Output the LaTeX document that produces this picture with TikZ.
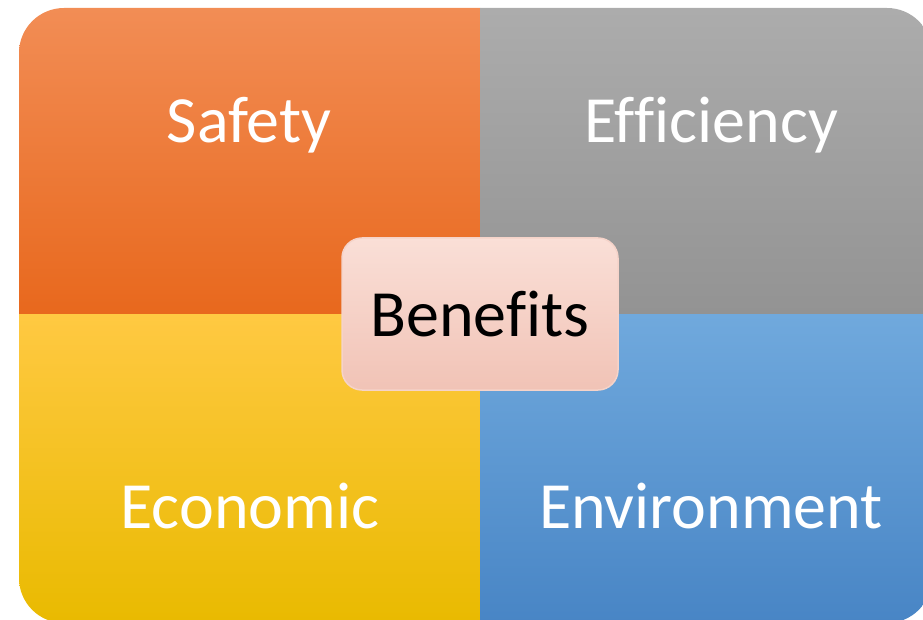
\documentclass[tikz,border=0pt]{standalone}
\usepackage{fontspec}
\setmainfont[Ligatures=NoCommon]{Carlito}
\definecolor{safT}{HTML}{F28D55}
\definecolor{safB}{HTML}{E8681D}
\definecolor{effT}{HTML}{ACACAC}
\definecolor{effB}{HTML}{939393}
\definecolor{ecoT}{HTML}{FFC942}
\definecolor{ecoB}{HTML}{E9BA00}
\definecolor{envT}{HTML}{70A9DD}
\definecolor{envB}{HTML}{4885C5}
\definecolor{benT}{HTML}{FADFD7}
\definecolor{benB}{HTML}{F1C3B6}
\definecolor{benD}{HTML}{F5D3C9}
\newcommand{\nolig}{\kern0pt\relax}
\tikzset{
  quadlabel/.style={text=white,font=\fontsize{66}{72}\selectfont,inner sep=0pt},
  centerbox/.style={rounded corners=20pt,draw=benD,line width=1.5pt,top color=benT,bottom color=benB,
     minimum width=276pt,minimum height=152pt,font=\fontsize{66}{72}\selectfont,text=black}
}
\begin{document}
\begin{tikzpicture}[x=1pt,y=-1pt]
\useasboundingbox (0,0) rectangle (923,620);
\begin{scope}
  \clip[rounded corners=45pt] (19,8) rectangle (932,623);
  \shade[top color=safT,bottom color=safB] (19,8) rectangle (480,314);
  \shade[top color=effT,bottom color=effB] (480,8) rectangle (932,314);
  \shade[top color=ecoT,bottom color=ecoB] (19,314) rectangle (480,623);
  \shade[top color=envT,bottom color=envB] (480,314) rectangle (932,623);
\end{scope}
\node[quadlabel] (safety) at (249,125) {Safety};
\node[quadlabel] (efficiency) at (711,125) {Ef\nolig f\nolig iciency};
\node[quadlabel] (economic) at (250,506) {Economic};
\node[quadlabel] (environment) at (711,506) {Environment};
\node[centerbox] (benefits) at (480,314) {Benef\nolig its};
\end{tikzpicture}
\end{document}
